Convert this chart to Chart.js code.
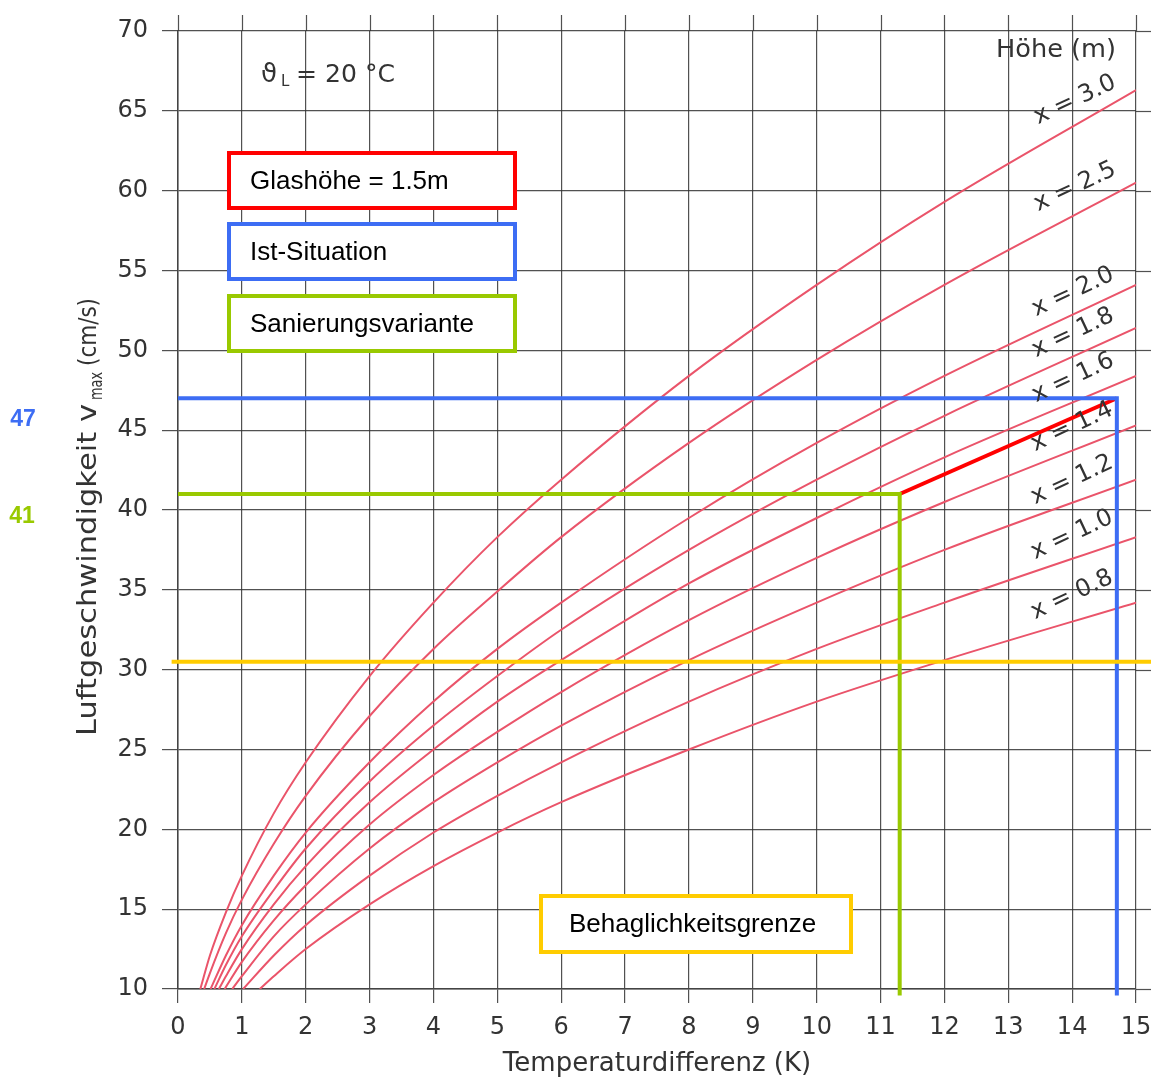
<!DOCTYPE html>
<html>
<head>
<meta charset="utf-8">
<script src="https://cdn.jsdelivr.net/npm/chart.js@4.4.1/dist/chart.umd.min.js"></script>
<style>
  html, body { margin: 0; padding: 0; background: #fff; }
  #wrap { width: 1151px; height: 1082px; }
</style>
</head>
<body>
<div id="wrap"><canvas id="grafico" width="1151" height="1082"></canvas></div>
<script>
// Temperaturdifferenz (K) an den Stuetzstellen
const dT = [0.5, 0.75, 1, 1.5, 2, 3, 4, 5, 6, 8, 10, 12, 15];

// Hoehe x (m) je Kurve und Startpunkt der Kurve bei v = 10 cm/s
const hoehen = ['3.0', '2.5', '2.0', '1.8', '1.6', '1.4', '1.2', '1.0', '0.8'];
const startDT = [0.35, 0.41, 0.51, 0.57, 0.64, 0.73, 0.85, 1.02, 1.28];

// Luftgeschwindigkeit v_max (cm/s)
const v30 = [12.1, 14.8, 17.1, 21.0, 24.2, 29.6, 34.2, 38.3, 41.9, 48.4, 54.1, 59.3, 66.3];
const v25 = [11.0, 13.5, 15.6, 19.1, 22.1, 27.1, 31.3, 34.9, 38.3, 44.2, 49.4, 54.1, 60.5];
const v20 = [null, 12.1, 14.0, 17.1, 19.8, 24.2, 28.0, 31.3, 34.2, 39.5, 44.2, 48.4, 54.1];
const v18 = [null, 11.5, 13.3, 16.2, 18.8, 23.0, 26.5, 29.6, 32.5, 37.5, 41.9, 45.9, 51.4];
const v16 = [null, 10.8, 12.5, 15.3, 17.7, 21.7, 25.0, 28.0, 30.6, 35.4, 39.5, 43.3, 48.4];
const v14 = [null, null, 11.7, 14.3, 16.5, 20.3, 23.4, 26.1, 28.6, 33.1, 37.0, 40.5, 45.3];
const v12 = [null, null, 10.8, 13.3, 15.3, 18.8, 21.7, 24.2, 26.5, 30.6, 34.2, 37.5, 41.9];
const v10 = [null, null, null, 12.1, 14.0, 17.1, 19.8, 22.1, 24.2, 28.0, 31.3, 34.2, 38.3];
const v08 = [null, null, null, 10.8, 12.5, 15.3, 17.7, 19.8, 21.7, 25.0, 28.0, 30.6, 34.2];
const kurven = [v30, v25, v20, v18, v16, v14, v12, v10, v08];

// Markierungen
const istV = 47, istDT = 14.7;
const sanV = 41, sanDT = 11.3;
const grenzeV = 30.5;

const corKurve = 'rgb(234, 84, 106)';
const corAzul = '#3d6df4';
const corVerde = '#99c900';
const corVermelho = '#ff0000';
const corAmarelo = '#ffcc00';

var datasets = [];

for (var i = 0; i < kurven.length; i++) {
    var pontos = [{ x: startDT[i], y: 10 }];
    for (var j = 0; j < dT.length; j++) {
        if (kurven[i][j] != null && dT[j] > startDT[i]) {
            pontos.push({ x: dT[j], y: kurven[i][j] });
        }
    }
    datasets.push({
        label: 'x = ' + hoehen[i],
        data: pontos,
        showLine: true,
        borderColor: corKurve,
        borderWidth: 2,
        cubicInterpolationMode: 'monotone',
        pointRadius: 0,
        order: 2
    });
}

function linha(dados, cor) {
    return {
        data: dados,
        showLine: true,
        borderColor: cor,
        borderWidth: 4,
        tension: 0,
        pointRadius: 0,
        clip: false,
        borderCapStyle: 'butt',
        borderJoinStyle: 'miter',
        order: 1
    };
}

datasets.push(linha([{ x: -0.1, y: grenzeV }, { x: 15.25, y: grenzeV }], corAmarelo));
datasets.push(linha([{ x: 0, y: istV }, { x: istDT, y: istV }, { x: istDT, y: 9.6 }], corAzul));
datasets.push(linha([{ x: 0, y: sanV }, { x: sanDT, y: sanV }, { x: sanDT, y: 9.6 }], corVerde));
datasets.push(linha([{ x: sanDT, y: sanV }, { x: istDT, y: istV }], corVermelho));

// texto esticado para caber num intervalo
function textoAjustado(ctx, txt, x, y, largura) {
    var w = ctx.measureText(txt).width;
    ctx.save();
    ctx.translate(x, y);
    ctx.scale(largura / w, 1);
    ctx.fillText(txt, 0, 0);
    ctx.restore();
}

const gradeExtra = {
    id: 'gradeExtra',
    beforeDatasetsDraw(chart) {
        const { ctx, chartArea, scales } = chart;
        ctx.save();
        ctx.strokeStyle = 'rgba(50,50,50,0.85)';
        ctx.lineWidth = 1.2;
        scales.x.ticks.forEach(function (t) {
            var px = Math.round(scales.x.getPixelForValue(t.value)) + 0.5;
            ctx.beginPath();
            ctx.moveTo(px, chartArea.top - 16);
            ctx.lineTo(px, chartArea.top);
            ctx.stroke();
        });
        scales.y.ticks.forEach(function (t) {
            var py = Math.round(scales.y.getPixelForValue(t.value)) + 0.5;
            ctx.beginPath();
            ctx.moveTo(chartArea.right, py);
            ctx.lineTo(chartArea.right + 15, py);
            ctx.stroke();
        });
        ctx.restore();
    }
};

const anotacoes = {
    id: 'anotacoes',
    afterDatasetsDraw(chart) {
        const ctx = chart.ctx;
        ctx.save();

        // titulo do eixo y (com indice)
        ctx.save();
        ctx.translate(96, 736);
        ctx.rotate(-Math.PI / 2);
        ctx.fillStyle = '#333';
        ctx.textBaseline = 'alphabetic';
        ctx.font = '27px "DejaVu Sans"';
        textoAjustado(ctx, 'Luftgeschwindigkeit v', 0, 0, 332);
        ctx.font = '17px "DejaVu Sans"';
        textoAjustado(ctx, 'max', 336, 6, 28);
        ctx.font = '25px "DejaVu Sans"';
        textoAjustado(ctx, '(cm/s)', 370, 0, 68);
        ctx.restore();

        // theta_L = 20 °C
        ctx.fillStyle = '#333';
        ctx.textBaseline = 'alphabetic';
        ctx.textAlign = 'left';
        ctx.font = '26px "DejaVu Sans"';
        ctx.fillText('\u03D1', 261, 82);
        ctx.font = '15px "DejaVu Sans"';
        ctx.fillText('L', 281, 86);
        ctx.font = '25px "DejaVu Sans"';
        textoAjustado(ctx, '= 20 °C', 296, 82, 99);

        // Hoehe (m)
        ctx.font = '25px "DejaVu Sans"';
        textoAjustado(ctx, 'Höhe (m)', 996, 57, 120);

        // rotulos das curvas
        const posRotulos = [[1075, 100], [1075, 187], [1073, 292], [1073, 333], [1073, 378],
                            [1072, 427], [1072, 480], [1072, 535], [1072, 595]];
        ctx.font = '24px "DejaVu Sans"';
        ctx.textAlign = 'center';
        ctx.textBaseline = 'middle';
        for (var i = 0; i < hoehen.length; i++) {
            ctx.save();
            ctx.translate(posRotulos[i][0], posRotulos[i][1]);
            ctx.rotate(-25 * Math.PI / 180);
            ctx.fillText('x = ' + hoehen[i], 0, 0);
            ctx.restore();
        }

        // caixas
        const caixas = [
            ['Glashöhe = 1.5m', corVermelho, 227, 151, 290, 59, 250],
            ['Ist-Situation', corAzul, 227, 222, 290, 59, 250],
            ['Sanierungsvariante', corVerde, 227, 294, 290, 59, 250],
            ['Behaglichkeitsgrenze', corAmarelo, 539, 894, 314, 60, 569]
        ];
        ctx.textAlign = 'left';
        ctx.textBaseline = 'middle';
        ctx.font = '26px "Liberation Sans", Arial, sans-serif';
        caixas.forEach(function (c) {
            ctx.fillStyle = '#fff';
            ctx.fillRect(c[2], c[3], c[4], c[5]);
            ctx.strokeStyle = c[1];
            ctx.lineWidth = 4;
            ctx.strokeRect(c[2] + 2, c[3] + 2, c[4] - 4, c[5] - 4);
            ctx.fillStyle = '#000';
            ctx.fillText(c[0], c[6], c[3] + c[5] / 2 + 1);
        });

        // valores 47 e 41
        ctx.font = 'bold 23px "Liberation Sans", Arial, sans-serif';
        ctx.textAlign = 'center';
        ctx.fillStyle = corAzul;
        ctx.fillText(String(istV), 23, 420);
        ctx.fillStyle = corVerde;
        ctx.fillText(String(sanV), 22, 517);

        ctx.restore();
    }
};

const fonteEixo = { family: 'DejaVu Sans', size: 24 };

const grafico = new Chart(document.getElementById('grafico'), {
    type: 'scatter',
    data: { datasets: datasets },
    options: {
        responsive: false,
        animation: false,
        layout: { padding: { top: 31, right: 0, left: 0, bottom: 0 } },
        plugins: {
            legend: { display: false },
            tooltip: { enabled: false }
        },
        scales: {
            x: {
                type: 'linear',
                min: 0,
                max: 15,
                ticks: { stepSize: 1, font: fonteEixo, color: '#333', padding: 10, maxRotation: 0, autoSkip: false },
                grid: { color: 'rgba(50,50,50,0.85)', lineWidth: 1.2, tickLength: 14 },
                border: { color: '#444', width: 1.5 },
                title: {
                    display: true,
                    text: 'Temperaturdifferenz (K)',
                    font: { family: 'DejaVu Sans', size: 26 },
                    color: '#333',
                    padding: { top: 0, bottom: 2 }
                },
                afterFit: function (s) {
                    s.height = 93;
                    s.paddingRight = 15;
                    s.paddingLeft = 0;
                }
            },
            y: {
                min: 10,
                max: 70,
                ticks: { stepSize: 5, font: fonteEixo, color: '#333', padding: 14 },
                grid: { color: 'rgba(50,50,50,0.85)', lineWidth: 1.2, tickLength: 16 },
                border: { color: '#444', width: 1.5 },
                afterFit: function (s) {
                    s.width = 178;
                    s.paddingTop = 0;
                    s.paddingBottom = 0;
                }
            }
        }
    },
    plugins: [gradeExtra, anotacoes]
});
</script>
</body>
</html>
